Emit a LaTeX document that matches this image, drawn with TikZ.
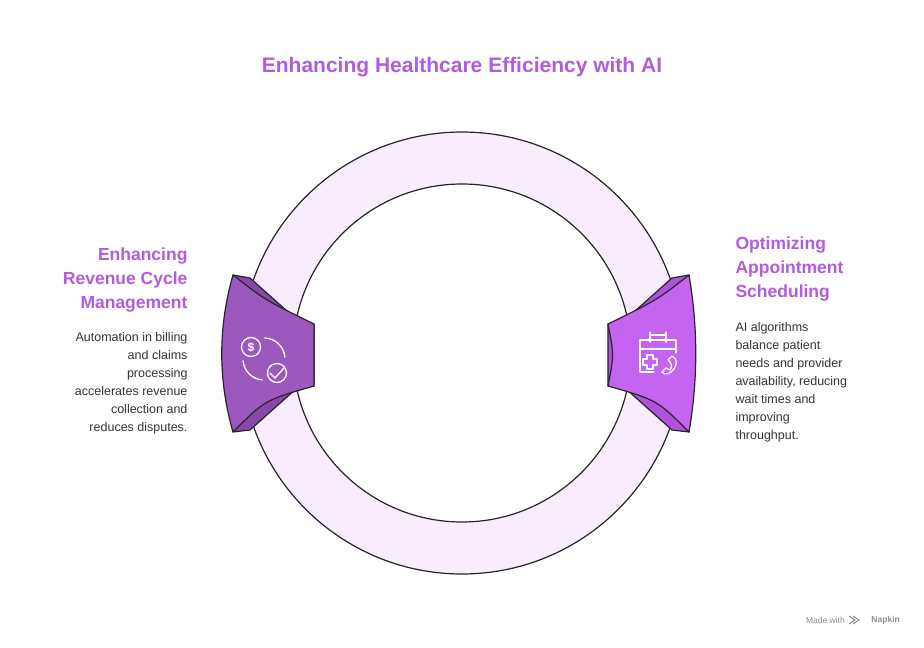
\documentclass[tikz,border=0pt]{standalone}
\usepackage{fontspec}
\setmainfont{Liberation Sans}
\begin{document}
\begin{tikzpicture}[x=1pt,y=-1pt,line join=round,
  ol/.style={draw=black!85,line width=1.2pt},
  ic/.style={draw=white,line width=1.3pt,line cap=round},
  head/.style={font=\bfseries\fontsize{17.5}{24}\selectfont,text=titlec,align=left},
  body/.style={font=\fontsize{12.5}{18}\selectfont,text=black!80,align=left},
  wm/.style={font=\fontsize{8.5}{10}\selectfont,text=black!45,inner sep=0pt}]
\definecolor{titlec}{HTML}{B35BE0}
\definecolor{ring}{HTML}{F9ECFC}
\definecolor{lf}{HTML}{9D58BF}
\definecolor{lb}{HTML}{8A47AB}
\definecolor{rf}{HTML}{C464F0}
\definecolor{rb}{HTML}{B052DE}
\useasboundingbox (0,0) rectangle (924,648);
\coordinate (c) at (462,353);
\fill[ring,ol,even odd rule] (c) circle[radius=221] (c) circle[radius=169];
% left tab
\fill[lb,ol] (233,275) -- (250,278) -- (297,320) -- (314,324) -- (314,386) -- (297,388) -- (250,430) -- (233,432) -- cycle;
\fill[lf,ol] (233,275) .. controls (265,300) .. (314,324) -- (314,386) .. controls (265,400) .. (233,432) .. controls (218,380) and (218,327) .. (233,275) -- cycle;
% right tab
\fill[rb,ol] (689,275) -- (672,278) -- (625,320) -- (608,324) -- (608,386) -- (625,388) -- (672,430) -- (689,432) -- cycle;
\fill[rf,ol] (689,275) .. controls (657,300) .. (608,324) .. controls (614,355) .. (608,386) .. controls (657,400) .. (689,432) .. controls (698,380) and (698,327) .. (689,275) -- cycle;
% left icon
\node[ic,circle,minimum size=19pt,inner sep=0pt] (d) at (251,347) {};
\node[font=\bfseries\fontsize{12}{12}\selectfont,text=white] at (d) {\$};
\node[ic,circle,minimum size=19pt,inner sep=0pt] (k) at (277,373) {};
\draw[ic] (270,373) -- (275,378) -- (284,368);
\coordinate (ac) at (264,359);
\draw[ic] (ac) ++(272:21) arc[start angle=272,end angle=355,radius=21];
\draw[ic] (ac) ++(95:21) arc[start angle=95,end angle=175,radius=21];
% right icon
\draw[ic] (640,340) -- (640,372) -- (654,372);
\draw[ic] (640,340) -- (676,340) -- (676,353);
\draw[ic] (640,349) -- (676,349);
\draw[ic] (650,332) -- (650,342) (666,332) -- (666,342) (650,335) -- (666,335);
\draw[ic] (647,355) -- (653,355) -- (653,359) -- (657,359) -- (657,365) -- (653,365) -- (653,369) -- (647,369) -- (647,365) -- (643,365) -- (643,359) -- (647,359) -- cycle;
\draw[ic] (672,356) .. controls (684,362) and (668,380) .. (662,372) -- (666,368) -- (670,370) .. controls (672,366) .. (670,362) -- (668,360) -- cycle;
% texts
\node[font=\bfseries\fontsize{21}{24}\selectfont,text=titlec] (t) at (462,67) {Enhancing Healthcare Efficiency with AI};
\node[head,align=right,anchor=north east] (lh) at (191,244) {Enhancing\\Revenue Cycle\\Management};
\node[body,align=right,anchor=north east] (lt) at (191,329) {Automation in billing\\and claims\\processing\\accelerates revenue\\collection and\\reduces disputes.};
\node[head,anchor=north west] (rh) at (732,233) {Optimizing\\Appointment\\Scheduling};
\node[body,anchor=north west] (rt) at (732,319) {AI algorithms\\balance patient\\needs and provider\\availability, reducing\\wait times and\\improving\\throughput.};
\node[wm,anchor=east] (np) at (900,620) {\textbf{Napkin}};
\node[wm,anchor=east] (mw) at (845,620) {Made with};
\draw[black!45,line width=1pt] (849,616) -- (855,620) -- (849,624) (853,616) -- (859,620) -- (853,624);
\end{tikzpicture}
\end{document}
